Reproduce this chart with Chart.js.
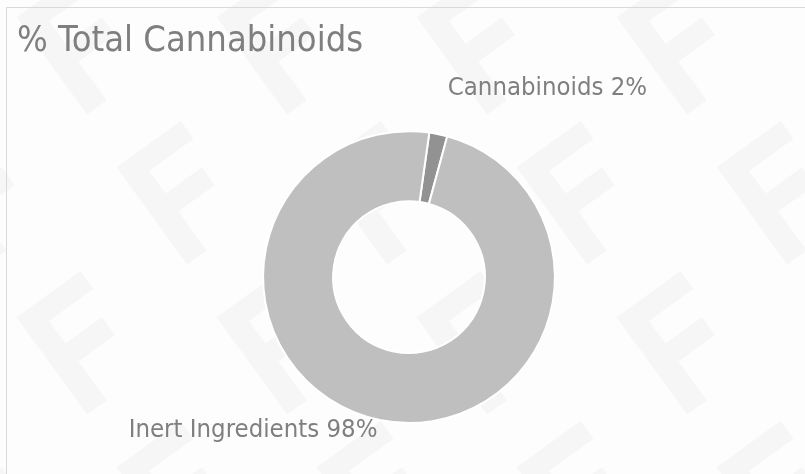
<!DOCTYPE html>
<html>
<head>
<meta charset="utf-8">
<script src="https://cdn.jsdelivr.net/npm/chart.js@4/dist/chart.umd.min.js"></script>
<style>
  html, body { margin: 0; padding: 0; background: #fdfdfd; }
  #wrap { width: 805px; height: 474px; }
</style>
</head>
<body>
<div id="wrap"><canvas id="cannabinoidChart" width="805" height="474"></canvas></div>
<script>
//********************** chart data ***********************
var labels = ['Cannabinoids', 'Inert Ingredients'];
var percents = [2, 98];
var sliceColors = ['#929292', '#bfbfbf'];
var labelOffsets = [47, 11]; // how far each label sits past the ring

var textGray = '#7f7f7f';
var fontName = '"DejaVu Sans Condensed", "DejaVu Sans", sans-serif';

// faint logo watermark + the frame lines along the top and left edge
var backdrop = {
  id: 'backdrop',
  beforeDraw: function(chart) {
    var ctx = chart.ctx;
    ctx.save();
    ctx.fillStyle = '#fdfdfd';
    ctx.fillRect(0, 0, chart.width, chart.height);

    ctx.fillStyle = '#f6f6f6';
    for (var row = -1; row < 4; row++) {
      for (var col = -1; col < 6; col++) {
        var ox = col * 200 + (row % 2 ? 100 : 0) + 60;
        var oy = row * 150 + 60;
        ctx.save();
        ctx.translate(ox, oy);
        ctx.rotate(-Math.PI / 5);
        ctx.fillRect(-10, -60, 24, 120);
        ctx.fillRect(14, -60, 55, 22);
        ctx.fillRect(14, -10, 45, 22);
        ctx.restore();
      }
    }

    ctx.strokeStyle = '#d9d9d9';
    ctx.lineWidth = 1;
    ctx.beginPath();
    ctx.moveTo(6.5, chart.height);
    ctx.lineTo(6.5, 7.5);
    ctx.lineTo(chart.width, 7.5);
    ctx.stroke();
    ctx.restore();
  }
};

// category name + percent placed just outside each slice
var sliceLabels = {
  id: 'sliceLabels',
  afterDatasetsDraw: function(chart) {
    var ctx = chart.ctx;
    var arcs = chart.getDatasetMeta(0).data;
    ctx.save();
    ctx.font = '25.5px ' + fontName;
    ctx.fillStyle = textGray;
    ctx.textBaseline = 'middle';
    arcs.forEach(function(arc, i) {
      var mid = (arc.startAngle + arc.endAngle) / 2;
      var r = arc.outerRadius + labelOffsets[i];
      var x = arc.x + Math.cos(mid) * r;
      var y = arc.y + Math.sin(mid) * r;
      ctx.textAlign = Math.cos(mid) >= 0 ? 'left' : 'right';
      ctx.fillText(labels[i] + ' ' + percents[i] + '%', x, y);
    });
    ctx.restore();
  }
};

var chart = new Chart(document.getElementById('cannabinoidChart'), {
  type: 'doughnut',
  data: {
    labels: labels,
    datasets: [{
      data: percents,
      backgroundColor: sliceColors,
      borderColor: '#ffffff',
      borderWidth: 2,
      hoverOffset: 0
    }]
  },
  options: {
    responsive: false,
    animation: false,
    rotation: 8,
    cutout: '52%',
    layout: { padding: { top: 8, left: 17, right: 4, bottom: 50 } },
    plugins: {
      legend: { display: false },
      tooltip: { enabled: false },
      title: {
        display: true,
        text: '% Total Cannabinoids',
        align: 'start',
        color: textGray,
        font: { family: fontName, size: 36, weight: 'normal', lineHeight: 1.2 },
        padding: { top: 12, bottom: 67 }
      }
    }
  },
  plugins: [backdrop, sliceLabels]
});
</script>
</body>
</html>
